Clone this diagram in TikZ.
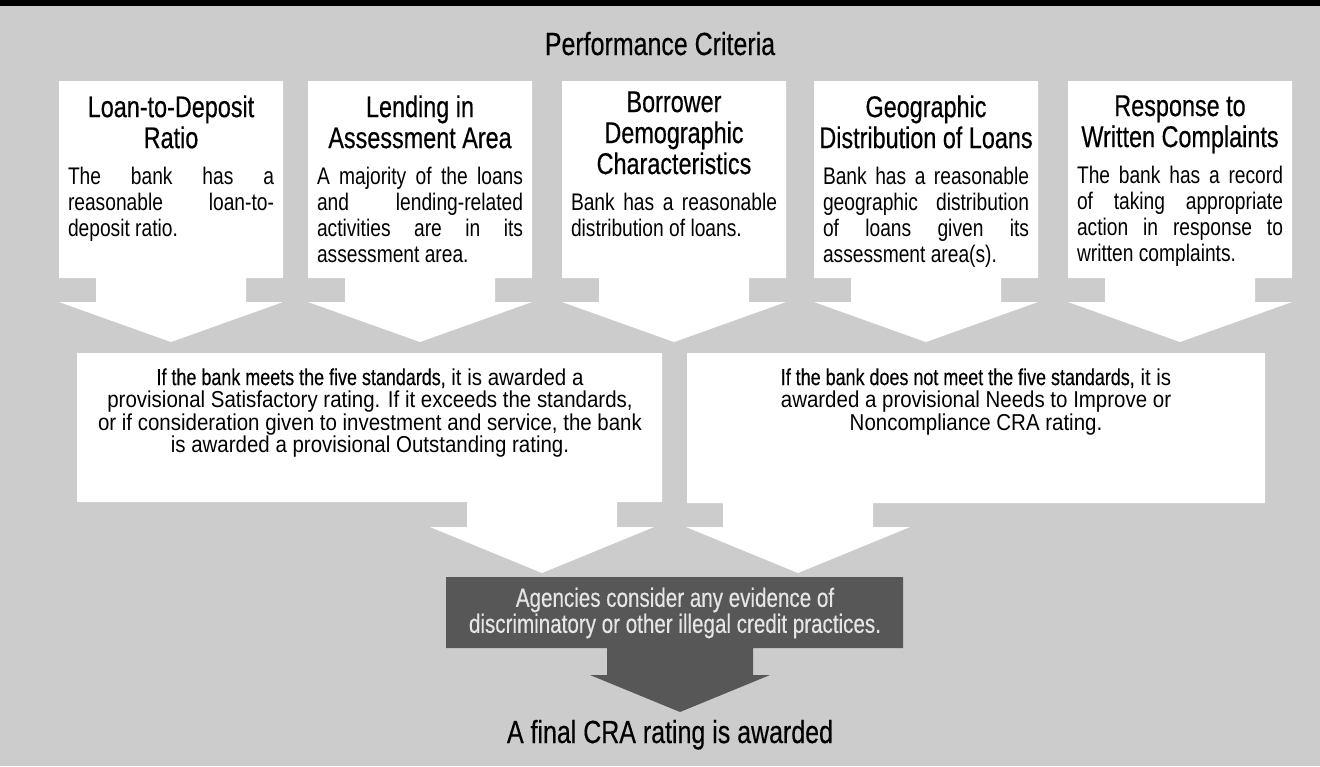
\documentclass[tikz,border=0pt]{standalone}
\usepackage{fontspec}
\setmainfont{Liberation Sans}[FakeStretch=0.8]
\newfontfamily\headfont{Liberation Sans}[FakeStretch=0.78,FakeBold=0.4]
\newfontfamily\midfont{Liberation Sans}[FakeStretch=0.89]
\usetikzlibrary{positioning}
\definecolor{paper}{gray}{0.80}
\definecolor{slate}{gray}{0.34}
\definecolor{pale}{gray}{0.90}
\tolerance=10000
\hbadness=10000
%% last line of a justified node runs to the full width
\newcommand{\fullend}{\parfillskip=0pt\relax}
%% box with a down arrow: left, right, top, bottom, stem x, stem half, head half, stem end, tip
\newcommand{\downbox}[9]{%
  \fill (#1,#3) -- (#2,#3) -- (#2,#4) -- ({#5+#6},#4) -- ({#5+#6},#8)
    -- ({#5+#7},#8) -- (#5,#9) -- ({#5-#7},#8) -- ({#5-#6},#8)
    -- ({#5-#6},#4) -- (#1,#4) -- cycle;}

\begin{document}
\begin{tikzpicture}[x=0.5pt,y=-0.5pt,
    head/.style={font=\headfont\fontsize{15}{15.5}\selectfont,align=center,
      inner sep=0pt,text depth=0pt,anchor=north},
    body/.style={font=\fontsize{12}{13}\selectfont,align=justify,
      text width=103pt,inner sep=0pt},
    verdict/.style={font=\midfont\fontsize{11.5}{11.25}\selectfont,align=center,
      inner sep=0pt,anchor=north}]
    \useasboundingbox (0,0) rectangle (1320,766);
    \fill[paper] (0,0) rectangle (1320,766);
    \fill[black] (0,0) rectangle (1320,6);
    %% five criteria
    \begin{scope}[fill=white]
        \foreach \cx in {171,420,674,926,1180}
            \downbox{\cx-112}{\cx+112}{81}{278}{\cx}{75}{112}{302}{342};
        %% two outcomes
        \downbox{77}{662}{353}{502}{542}{75}{112}{527}{573}
        \downbox{687}{1265}{353}{503}{798}{75}{112}{527}{573}
    \end{scope}
    \begin{scope}[fill=slate]
        \downbox{446}{903}{577}{648}{680}{73}{90}{675}{712}
    \end{scope}
    \node[anchor=base,font=\headfont\fontsize{16}{16}\selectfont] (criteria) at (660,55) {Performance Criteria};
    %% criteria texts
    \node[head] (loan) at (171,95) {Loan-to-Deposit\\Ratio};
    \node[body,below=9pt of loan] (loantxt) {The bank has a\linebreak reasonable loan-to-\linebreak deposit ratio.};
    \node[head] (area) at (420,95) {Lending in\\Assessment Area};
    \node[body,below=9pt of area] (areatxt) {\fullend A majority of the loans\linebreak and lending-related\linebreak activities are in its\linebreak assessment area.};
    \node[head] (borrower) at (674,91) {Borrower\\Demographic\\Characteristics};
    \node[body,below=9pt of borrower] (borrowertxt) {\fullend Bank has a reasonable\linebreak distribution of loans.};
    \node[head] (geo) at (926,95) {Geographic\\Distribution of Loans};
    \node[body,below=9pt of geo] (geotxt) {\fullend Bank has a reasonable\linebreak geographic distribution\linebreak of loans given its\linebreak assessment area(s).};
    \node[head] (resp) at (1180,95) {Response to\\Written Complaints};
    \node[body,below=9pt of resp] (resptxt) {\fullend The bank has a record\linebreak of taking appropriate\linebreak action in response to\linebreak written complaints.};
    %% outcomes
    \node[verdict] (meets) at (370,368) {{\headfont If the bank meets the five standards,} it is awarded a\\
        provisional Satisfactory rating. If it exceeds the standards,\\
        or if consideration given to investment and service, the bank\\
        is awarded a provisional Outstanding rating.};
    \node[verdict] (fails) at (976,368) {{\headfont If the bank does not meet the five standards,} it is\\
        awarded a provisional Needs to Improve or\\
        Noncompliance CRA rating.};
    %% review and result
    \node[font=\headfont\fontsize{13.2}{13}\selectfont,text=pale,align=center,inner sep=0pt] (agencies) at (675,613)
        {Agencies consider any evidence of\\discriminatory or other illegal credit practices.};
    \node[anchor=base,font=\headfont\fontsize{16}{16}\selectfont] (final) at (670,743) {A final CRA rating is awarded};
\end{tikzpicture}
\end{document}
